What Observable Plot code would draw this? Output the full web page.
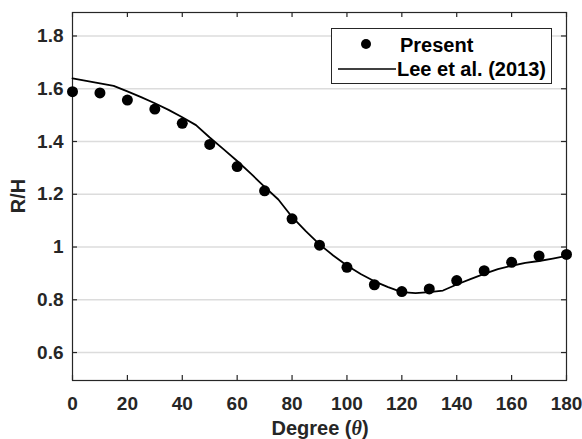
<!DOCTYPE html>
<html>
<head>
<meta charset="utf-8">
<script src="https://cdn.jsdelivr.net/npm/d3@7"></script>
<script src="https://cdn.jsdelivr.net/npm/@observablehq/plot@0.6"></script>
<style>
  html, body { margin: 0; padding: 0; background: #fff; }
  #wrap { position: relative; width: 582px; height: 439px; font-family: "Liberation Sans", Arial, Helvetica, sans-serif; }
  #legend { position: absolute; left: 331px; top: 28px; width: 219px; height: 54px; border: 1px solid #262626; background: #fff; }
</style>
</head>
<body>
<div id="wrap"></div>
<script>
// Present (dots)
const presentTheta = [0, 10, 20, 30, 40, 50, 60, 70, 80, 90, 100, 110, 120, 130, 140, 150, 160, 170, 180];
const presentRH = [1.589, 1.584, 1.557, 1.523, 1.469, 1.389, 1.305, 1.213, 1.107, 1.007, 0.923, 0.857, 0.831, 0.841, 0.873, 0.910, 0.942, 0.966, 0.972];

// Lee et al. (2013) (line)
const leeTheta = [0, 5, 10, 15, 20, 25, 30, 35, 40, 45, 50, 55, 60, 65, 70, 75, 80, 85, 90, 95, 100, 105, 110, 115, 120, 125, 130, 135, 140, 145, 150, 155, 160, 165, 170, 175, 180];
const leeRH = [1.639, 1.630, 1.620, 1.611, 1.590, 1.568, 1.545, 1.520, 1.492, 1.462, 1.415, 1.371, 1.326, 1.278, 1.228, 1.180, 1.114, 1.060, 1.010, 0.968, 0.930, 0.898, 0.870, 0.848, 0.829, 0.825, 0.829, 0.835, 0.858, 0.878, 0.898, 0.916, 0.929, 0.940, 0.947, 0.956, 0.966];

// Ticks
const xTicks = [0, 20, 40, 60, 80, 100, 120, 140, 160, 180];
const yTicks = [0.6, 0.8, 1, 1.2, 1.4, 1.6, 1.8];
const xDomain = [0, 180];
const yDomain = [0.494, 1.889];

const present = presentTheta.map((t, i) => ({theta: t, rh: presentRH[i]}));
const lee = leeTheta.map((t, i) => ({theta: t, rh: leeRH[i]}));

const W = 582, H = 439, mL = 72, mR = 16, mT = 12, mB = 59;
const fw = W - mL - mR, fh = H - mT - mB, tk = 5;
const axisColor = "#262626";

const chart = Plot.plot({
  width: W, height: H,
  marginLeft: mL, marginRight: mR, marginTop: mT, marginBottom: mB,
  style: {fontFamily: "'Liberation Sans', Arial, Helvetica, sans-serif", fontSize: "19px", fontWeight: "bold", color: axisColor, background: "#fff"},
  x: {domain: xDomain, ticks: xTicks, tickSize: 0, tickPadding: 16, label: null, tickFormat: d => String(d)},
  y: {domain: yDomain, ticks: yTicks, tickSize: 0, tickPadding: 9, label: null, tickFormat: d => String(d)},
  marks: [
    Plot.ruleY(yTicks, {y: d => d, stroke: "#dcdcdc", strokeWidth: 1.5}),
    Plot.frame({stroke: axisColor, strokeWidth: 1.2}),
    Plot.tickX(xTicks, {x: d => d, insetTop: fh - tk, stroke: axisColor, strokeWidth: 1.2}),
    Plot.tickX(xTicks, {x: d => d, insetBottom: fh - tk, stroke: axisColor, strokeWidth: 1.2}),
    Plot.tickY(yTicks, {y: d => d, insetRight: fw - tk, stroke: axisColor, strokeWidth: 1.2}),
    Plot.tickY(yTicks, {y: d => d, insetLeft: fw - tk, stroke: axisColor, strokeWidth: 1.2}),
    Plot.line(lee, {x: "theta", y: "rh", stroke: "#000", strokeWidth: 1.8}),
    Plot.dot(present, {x: "theta", y: "rh", r: 5.5, fill: "#000", stroke: "none"})
  ]
});

const wrap = document.getElementById("wrap");
wrap.appendChild(chart);

// Axis titles
const svg = d3.select(chart);
const xt = svg.append("text")
  .attr("x", 320).attr("y", 435)
  .attr("text-anchor", "middle")
  .attr("fill", axisColor)
  .style("font-size", "20px").style("font-weight", "bold");
xt.append("tspan").text("Degree (");
xt.append("tspan").text("θ").style("font-style", "italic").style("font-family", "'Liberation Serif', 'Times New Roman', serif");
xt.append("tspan").text(")");

svg.append("text")
  .attr("transform", "translate(25,196) rotate(-90)")
  .attr("text-anchor", "middle")
  .attr("fill", axisColor)
  .style("font-size", "20px").style("font-weight", "bold")
  .text("R/H");

// Legend overlay
const leg = d3.select(wrap).append("div").attr("id", "legend");
const ls = leg.append("svg").attr("width", 219).attr("height", 54).style("display", "block");
ls.append("circle").attr("cx", 34).attr("cy", 15).attr("r", 5).attr("fill", "#000");
ls.append("line").attr("x1", 6).attr("x2", 64).attr("y1", 40).attr("y2", 40).attr("stroke", "#000").attr("stroke-width", 1.6);
ls.append("text").attr("x", 68).attr("y", 23).attr("fill", "#000")
  .style("font-family", "'Liberation Sans', Arial, sans-serif").style("font-size", "20px").style("font-weight", "bold").text("Present");
ls.append("text").attr("x", 65).attr("y", 47).attr("fill", "#000")
  .style("font-family", "'Liberation Sans', Arial, sans-serif").style("font-size", "20px").style("font-weight", "bold").text("Lee et al. (2013)");
</script>
</body>
</html>
